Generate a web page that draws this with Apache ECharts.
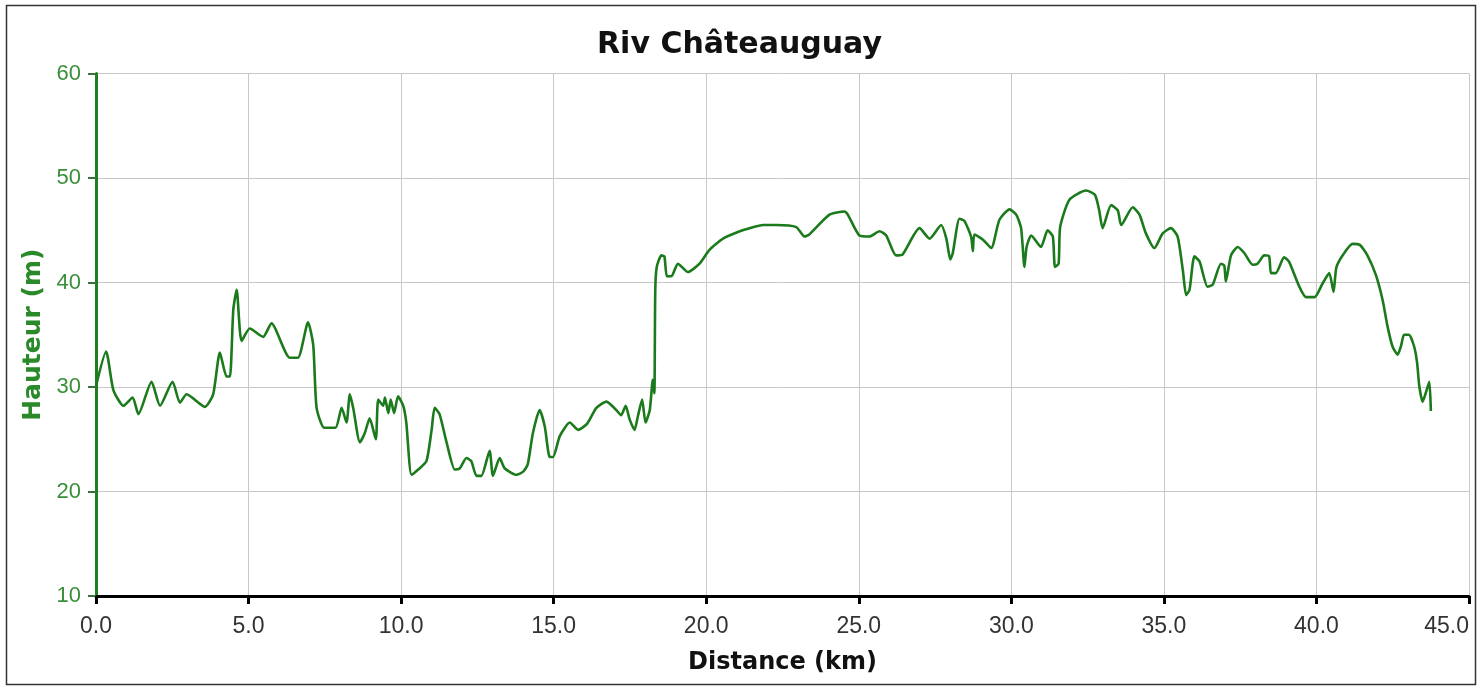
<!DOCTYPE html>
<html>
<head>
<meta charset="utf-8">
<title>Riv Châteauguay</title>
<script src="https://cdn.jsdelivr.net/npm/echarts@6/dist/echarts.min.js"></script>
<style>
html, body {
    margin: 0;
    padding: 0;
    background: #fff;
    overflow: hidden;
}
#profile-chart {
    width: 1479px;
    height: 687px;
}
</style>
</head>
<body>
<div id="profile-chart"></div>
<script>
// distance le long du trajet (km)
const distances = [
    0.00, 0.33, 0.57, 0.90, 1.20, 1.39, 1.82, 2.10, 2.51, 2.75, 2.97, 3.57, 3.84, 4.06, 4.28, 4.39,
    4.50, 4.61, 4.77, 5.04, 5.48, 5.75, 6.35, 6.62, 6.95, 7.12, 7.23, 7.48, 7.85, 8.05, 8.21, 8.32,
    8.43, 8.65, 8.81, 8.97, 9.17, 9.25, 9.41, 9.47, 9.58, 9.66, 9.77, 9.90, 10.07, 10.17, 10.34, 10.56,
    10.83, 11.00, 11.10, 11.26, 11.49, 11.76, 11.92, 12.14, 12.30, 12.47, 12.63, 12.90, 13.01, 13.23, 13.40, 13.78,
    14.00, 14.15, 14.32, 14.54, 14.71, 14.87, 14.98, 15.20, 15.53, 15.80, 16.10, 16.40, 16.73, 17.05, 17.21, 17.36,
    17.49, 17.65, 17.76, 17.90, 18.01, 18.15, 18.25, 18.30, 18.33, 18.38, 18.53, 18.63, 18.71, 18.86, 19.07, 19.40,
    19.78, 20.10, 20.55, 21.10, 21.42, 21.86, 22.30, 22.95, 23.22, 23.38, 24.04, 24.53, 24.64, 25.02, 25.35, 25.68,
    25.90, 26.22, 26.44, 26.99, 27.32, 27.70, 27.87, 28.00, 28.08, 28.30, 28.46, 28.68, 28.74, 28.79, 29.07, 29.34,
    29.61, 29.94, 30.16, 30.32, 30.43, 30.50, 30.65, 30.97, 31.19, 31.36, 31.43, 31.55, 31.60, 31.90, 32.45, 32.74,
    32.88, 32.99, 33.27, 33.49, 33.60, 33.98, 34.20, 34.41, 34.69, 34.96, 35.23, 35.45, 35.62, 35.73, 35.84, 36.00,
    36.17, 36.43, 36.60, 36.87, 36.98, 37.03, 37.20, 37.42, 37.64, 37.91, 38.07, 38.29, 38.45, 38.51, 38.67, 38.94,
    39.10, 39.44, 39.66, 39.94, 40.20, 40.42, 40.56, 40.65, 40.86, 41.18, 41.42, 41.67, 41.95, 42.17, 42.33, 42.49,
    42.66, 42.77, 42.87, 43.03, 43.20, 43.30, 43.37, 43.48, 43.58, 43.70, 43.75
];

// hauteur (m)
const heights = [
    30.1, 33.4, 29.7, 28.2, 29.0, 27.4, 30.5, 28.2, 30.5, 28.5, 29.3, 28.1, 29.3, 33.3, 31.0, 31.0,
    37.4, 39.3, 34.4, 35.6, 34.8, 36.1, 32.8, 32.8, 36.2, 34.0, 28.0, 26.1, 26.1, 28.0, 26.6, 29.3,
    28.0, 24.7, 25.6, 27.0, 25.0, 28.8, 28.2, 29.0, 27.5, 28.8, 27.5, 29.1, 28.2, 26.6, 21.6, 22.1,
    22.9, 25.9, 28.0, 27.4, 24.7, 22.1, 22.2, 23.2, 22.9, 21.5, 21.5, 23.9, 21.5, 23.2, 22.2, 21.6,
    21.9, 22.6, 25.6, 27.8, 26.2, 23.3, 23.3, 25.3, 26.6, 25.9, 26.5, 28.0, 28.6, 27.8, 27.3, 28.2,
    26.9, 25.9, 27.2, 28.8, 26.6, 27.8, 30.7, 29.4, 39.3, 41.5, 42.6, 42.5, 40.6, 40.6, 41.8, 41.0,
    41.8, 43.1, 44.2, 44.9, 45.2, 45.5, 45.5, 45.3, 44.4, 44.6, 46.5, 46.8, 46.5, 44.5, 44.4, 44.9,
    44.5, 42.6, 42.7, 45.2, 44.2, 45.5, 44.2, 42.2, 42.8, 46.1, 45.9, 44.4, 43.0, 44.6, 44.1, 43.3,
    46.0, 47.0, 46.5, 45.2, 41.5, 43.4, 44.5, 43.4, 45.0, 44.4, 41.5, 41.8, 45.3, 47.9, 48.8, 48.4,
    46.9, 45.2, 47.4, 46.9, 45.5, 47.2, 46.5, 44.7, 43.3, 44.7, 45.2, 44.4, 41.2, 38.8, 39.3, 42.5,
    42.0, 39.6, 39.8, 41.8, 41.6, 40.1, 42.6, 43.4, 42.8, 41.7, 41.8, 42.6, 42.5, 40.9, 40.9, 42.4,
    42.0, 39.6, 38.6, 38.6, 39.9, 40.9, 39.1, 41.4, 42.6, 43.7, 43.6, 42.6, 40.7, 38.3, 35.8, 33.9,
    33.1, 33.9, 35.0, 35.0, 33.9, 32.3, 30.1, 28.6, 29.4, 30.5, 27.7
];

const xMin = 0, xMax = 45, xStep = 5;
const yMin = 10, yMax = 60, yStep = 10;

const profile = distances.map((d, i) => [d, heights[i]]);

const chart = echarts.init(document.getElementById('profile-chart'));
const option = {
    animation: false,
    title: {
        text: 'Riv Châteauguay',
        left: 'center',
        top: 25,
        textStyle: {
            fontFamily: 'DejaVu Sans',
            fontWeight: 'bold',
            fontSize: 30,
            color: '#111'
        }
    },
    grid: {
        left: 96,
        right: 10,
        top: 73.5,
        bottom: 91,
        containLabel: false,
        outerBoundsMode: 'none'
    },
    // cadre autour de l'image
    graphic: [{
        type: 'rect',
        shape: { x: 6.5, y: 5.5, width: 1469, height: 679 },
        style: { fill: 'none', stroke: '#333', lineWidth: 1.5 },
        silent: true
    }],
    xAxis: {
        type: 'value',
        min: xMin,
        max: xMax,
        interval: xStep,
        name: 'Distance (km)',
        nameLocation: 'middle',
        nameGap: 55,
        nameTextStyle: {
            fontFamily: 'DejaVu Sans',
            fontWeight: 'bold',
            fontSize: 24,
            color: '#111'
        },
        axisLine: { lineStyle: { color: '#000', width: 3 } },
        axisTick: { length: 8, lineStyle: { color: '#000', width: 3 } },
        axisLabel: {
            margin: 19,
            fontFamily: 'Liberation Sans',
            fontSize: 23,
            color: '#333',
            alignMaxLabel: 'right',
            formatter: v => v.toFixed(1)
        },
        splitLine: { show: true, lineStyle: { color: '#c8c8c8', width: 1 } }
    },
    yAxis: {
        type: 'value',
        min: yMin,
        max: yMax,
        interval: yStep,
        name: 'Hauteur (m)',
        nameLocation: 'middle',
        nameGap: 48,
        nameRotate: 90,
        nameTextStyle: {
            fontFamily: 'DejaVu Sans',
            fontWeight: 'bold',
            fontSize: 25,
            color: '#2a8a2a'
        },
        axisLine: { show: true, lineStyle: { color: '#1f7f1f', width: 3 } },
        axisTick: { show: true, length: 8, lineStyle: { color: '#3f6f3f', width: 2 } },
        axisLabel: {
            margin: 15,
            fontFamily: 'Liberation Sans',
            fontSize: 22,
            color: '#3a8f3a'
        },
        splitLine: { show: true, lineStyle: { color: '#c8c8c8', width: 1 } }
    },
    series: [{
        name: 'Hauteur',
        type: 'line',
        data: profile,
        showSymbol: false,
        smooth: 0.2,
        lineStyle: { color: '#1b7a1b', width: 2.6 }
    }]
};
chart.setOption(option);
</script>
</body>
</html>
